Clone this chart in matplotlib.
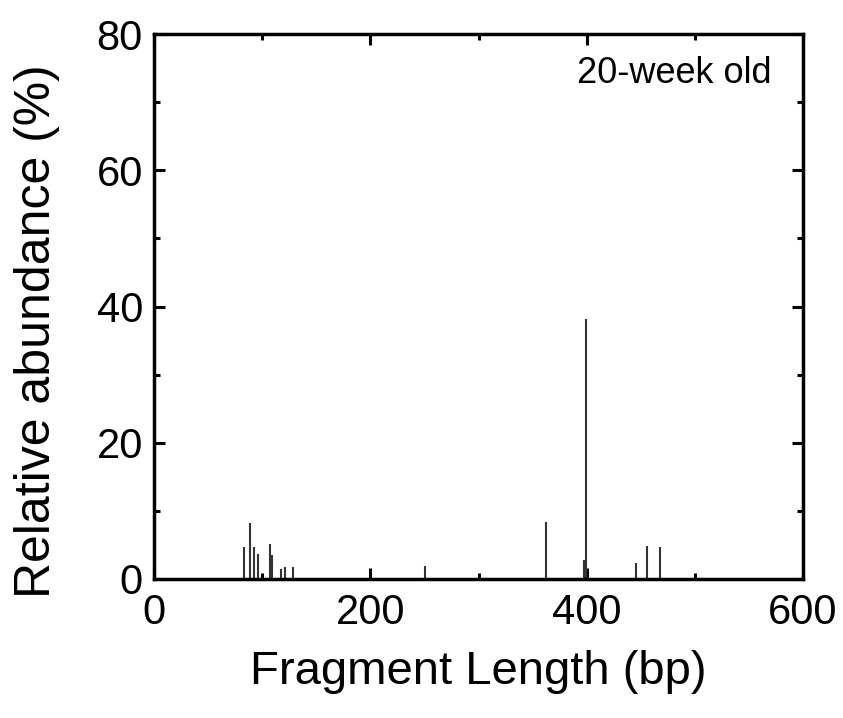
import matplotlib
matplotlib.use("Agg")
import matplotlib.pyplot as plt
from matplotlib.ticker import MultipleLocator

plt.rcParams["font.family"] = ["Liberation Sans", "DejaVu Sans"]

# fragment lengths (bp) and relative abundance (%)
lengths = [83.4, 88.6, 92.6, 95.7, 107.4, 109.5, 117.2, 121.2, 128.6,
           250.2, 362.5, 397.8, 399.7, 445.6, 455.4, 467.7]
abundance = [4.7, 8.2, 4.7, 3.6, 5.2, 3.5, 1.5, 1.7, 1.7,
             1.9, 8.3, 2.8, 38.2, 2.3, 4.9, 4.65]

x_ticks = [0, 200, 400, 600]
y_ticks = [0, 20, 40, 60, 80]
label_text = "20-week old"

fig = plt.figure(figsize=(8.43, 7.18), dpi=100)
ax = fig.add_axes([0.1827, 0.1936, 0.7699, 0.759])

ax.vlines(lengths, 0, abundance, colors="#333333", linewidth=1.5)

ax.set_xlim(0, 600)
ax.set_ylim(0, 80)
ax.set_xticks(x_ticks)
ax.set_yticks(y_ticks)
ax.xaxis.set_minor_locator(MultipleLocator(100))
ax.yaxis.set_minor_locator(MultipleLocator(10))

ax.tick_params(which="both", direction="in", top=True, right=True,
               width=2.2, labelsize=30)
ax.tick_params(which="major", length=8)
ax.tick_params(which="minor", length=4.5)
ax.tick_params(axis="x", pad=10)
ax.tick_params(axis="y", pad=8)
for s in ax.spines.values():
    s.set_linewidth(2.5)

ax.set_xlabel("Fragment Length (bp)", fontsize=34, labelpad=12)
ax.set_ylabel("Relative abundance (%)", fontsize=36)
ax.yaxis.set_label_coords(-0.145, 0.455)

ax.text(0.951, 0.928, label_text, transform=ax.transAxes,
        ha="right", va="center", fontsize=26)

fig.savefig("out.png", dpi=100)
